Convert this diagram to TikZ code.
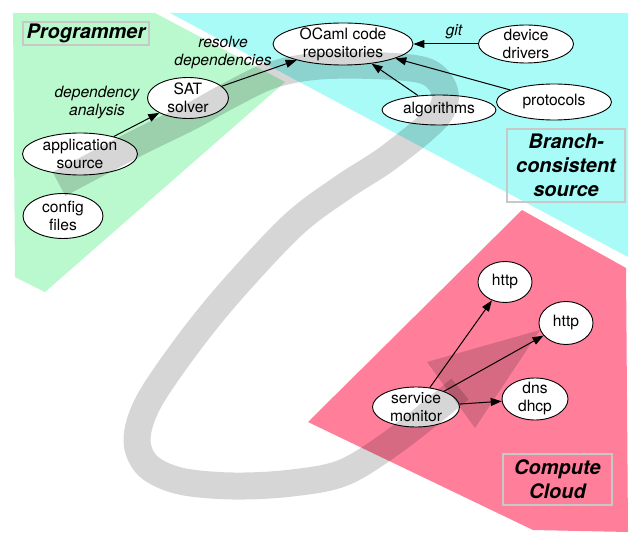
\documentclass[tikz,border=0pt]{standalone}
\usepackage{fontspec}
\setmainfont{TeX Gyre Heros}
\usetikzlibrary{shapes.geometric,arrows.meta}
\definecolor{progGreen}{RGB}{186,248,205}
\definecolor{srcCyan}{RGB}{168,251,247}
\definecolor{cloudPink}{RGB}{255,127,155}
\definecolor{boxGray}{RGB}{200,200,200}
\begin{document}
\begin{tikzpicture}[x=1pt,y=-1pt,
  comp/.style={ellipse, draw=black, line width=0.9pt, fill=white, inner xsep=0pt, inner ysep=-8pt, align=center, font=\fontsize{15.6}{18}\selectfont},
  dep/.style={-{Triangle[length=11pt,width=8pt]}, line width=1pt},
  elabel/.style={font=\fontsize{15.6}{18}\selectfont\itshape, align=center, inner sep=0pt},
  titlebox/.style={draw=boxGray, line width=1.3pt, align=center, font=\fontsize{20}{24}\selectfont\bfseries\itshape, inner sep=0pt},
  band/.style={line width=27pt, draw=black, draw opacity=0.16, line join=round, line cap=butt},
  shade/.style={fill=black, fill opacity=0.16},
]
\useasboundingbox (0,0) rectangle (642,545);
\fill[white] (0,0) rectangle (642,545);
% regions
\fill[progGreen] (13,13) -- (155,13) -- (285,82) -- (45,292) -- (15,277) -- cycle;
\fill[srcCyan] (170,13) -- (628,13) -- (628,257) -- cycle;
\fill[cloudPink] (522,210) -- (626,268) -- (628,532) -- (533,530) -- (308,422) -- cycle;
% components
\node[comp, minimum width=115pt, minimum height=42pt] (app) at (80,154) {application\\source};
\node[comp, minimum width=80pt, minimum height=45pt] (cfg) at (63,216) {config\\files};
\node[comp, minimum width=81pt, minimum height=41pt] (sat) at (188,98) {SAT\\solver};
\node[comp, minimum width=140pt, minimum height=42pt] (ocaml) at (343,44) {OCaml code\\repositories};
\node[comp, minimum width=95pt, minimum height=38pt] (dev) at (526,44) {device\\drivers};
\node[comp, minimum width=114pt, minimum height=30pt] (alg) at (439,110) {algorithms};
\node[comp, minimum width=115pt, minimum height=36pt] (proto) at (554,102) {protocols};
\node[comp, minimum width=54pt, minimum height=41pt] (httpA) at (505,282) {http};
\node[comp, minimum width=54pt, minimum height=43pt] (httpB) at (566,323) {http};
\node[comp, minimum width=66pt, minimum height=42pt] (dns) at (535,399) {dns\\dhcp};
\node[comp, minimum width=87pt, minimum height=40pt] (mon) at (416,407) {service\\monitor};
% edge labels
\node[elabel] (lblDep) at (97,103) {dependency\\analysis};
\node[elabel] (lblRes) at (223,52) {resolve\\dependencies};
\node[elabel] (lblGit) at (454,32) {git};
% connectors
\draw[dep] (app) -- (sat);
\draw[dep] (sat) -- (ocaml);
\draw[dep] (dev) -- (ocaml);
\draw[dep] (alg) -- (ocaml);
\draw[dep] (proto) -- (ocaml);
\draw[dep] (mon) -- (httpA);
\draw[dep] (mon) -- (httpB);
\draw[dep] (mon) -- (dns);
% workflow band
\draw[band] plot[smooth, tension=0.55] coordinates {
  (59,184) (137,143) (190,117) (228,96) (272,75) (320,66) (385,66) (428,72)
  (445,93) (436,118) (388,158) (342,188) (293,225) (230,292) (185,348)
  (148,403) (137,440) (148,466) (180,481) (233,486) (292,483) (345,472)
  (400,437) (460,389)};
\fill[shade] (427,362) -- (540,330) -- (475,428) -- cycle;
% titles
\node[titlebox, minimum width=126pt, minimum height=23pt] (tProg) at (86,33.5) {Programmer};
\node[titlebox, minimum width=118pt, minimum height=73pt] (tSrc) at (566,165.5) {Branch-\\consistent\\source};
\node[titlebox, minimum width=109pt, minimum height=51pt] (tCloud) at (557.5,479.5) {Compute\\Cloud};
\end{tikzpicture}
\end{document}
